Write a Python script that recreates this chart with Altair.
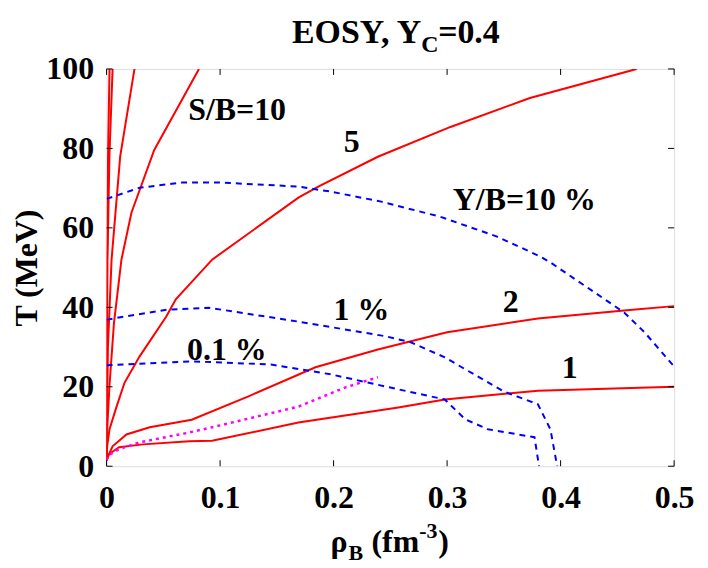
import altair as alt
import pandas as pd

# ---------------- data ----------------
# isentropes S/B (red, solid)
sb1_rho = [0, 0.002, 0.011, 0.032, 0.073, 0.093, 0.169, 0.257, 0.298, 0.38, 0.5]
sb1_T = [1.5, 3.0, 4.8, 5.5, 6.3, 6.4, 11.0, 14.8, 16.8, 19.0, 20.0]

sb2_rho = [0, 0.002, 0.0053, 0.0175, 0.038, 0.075, 0.125, 0.184, 0.239, 0.30, 0.38, 0.456, 0.5]
sb2_T = [1.5, 3.0, 5.0, 8.0, 9.8, 11.7, 17.6, 24.9, 29.4, 33.7, 37.2, 39.2, 40.3]

sb5_rho = [0, 0.0005, 0.0026, 0.0088, 0.0158, 0.029, 0.0526, 0.061, 0.093, 0.169, 0.1865, 0.239, 0.303, 0.373, 0.467]
sb5_T = [1.5, 5, 9.3, 15, 21, 27.6, 37.7, 42, 52, 67.6, 70.4, 77.9, 85.4, 92.7, 100]

sb10_rho = [0, 0.0003, 0.0025, 0.0065, 0.0131, 0.0219, 0.042, 0.0814]
sb10_T = [1.5, 8, 20, 36, 52, 63.8, 79.6, 100]

sb20_rho = [0, 0.0002, 0.0012, 0.0044, 0.012, 0.0246]
sb20_T = [1.5, 10, 30, 52, 78, 100]

sb50_rho = [0, 0.0002, 0.0008, 0.0025, 0.0053]
sb50_T = [1.5, 25, 52, 78, 100]

sb100_rho = [0, 0.0001, 0.0004, 0.0013, 0.0026]
sb100_T = [1.5, 25, 52, 78, 100]

# magenta dotted curve
mag_rho = [0, 0.002, 0.011, 0.029, 0.073, 0.096, 0.169, 0.21, 0.239]
mag_T = [1.5, 2.8, 4.3, 6.0, 8.5, 10.0, 15.0, 19.8, 22.4]

# Y/B contours (blue, dashed)
yb10_rho = [0, 0.029, 0.0665, 0.10, 0.169, 0.198, 0.242, 0.294, 0.344, 0.382, 0.391, 0.456, 0.474, 0.5]
yb10_T = [67.3, 70.1, 71.4, 71.4, 70.4, 69.1, 66.6, 62.8, 57.8, 52.8, 51.3, 38.7, 33.7, 25.1]

yb1_rho = [0, 0.0526, 0.09, 0.169, 0.246, 0.268, 0.298, 0.316, 0.35, 0.38, 0.391, 0.397]
yb1_T = [36.9, 39.4, 39.9, 36.4, 32.7, 31.2, 27.4, 24.4, 18.8, 15.6, 9.3, 0]

yb01_rho = [0, 0.075, 0.145, 0.198, 0.25, 0.298, 0.316, 0.336, 0.377, 0.381]
yb01_T = [25.4, 26.4, 25.6, 23.1, 19.8, 16.8, 11.8, 9.3, 7.3, 0]

# in-plot labels
lab_text = ["S/B=10", "5", "Y/B=10 %", "1 %", "0.1 %", "2", "1"]
lab_rho = [0.115, 0.216, 0.368, 0.2245, 0.106, 0.356, 0.408]
lab_T = [89.6, 81.5, 66.9, 39.3, 29.3, 41.4, 24.8]

x_ticks = [0, 0.1, 0.2, 0.3, 0.4, 0.5]
y_ticks = [0, 20, 40, 60, 80, 100]

# ---------------- build table ----------------
curves = [
    ("S/B=1", "red", sb1_rho, sb1_T),
    ("S/B=2", "red", sb2_rho, sb2_T),
    ("S/B=5", "red", sb5_rho, sb5_T),
    ("S/B=10", "red", sb10_rho, sb10_T),
    ("S/B=20", "red", sb20_rho, sb20_T),
    ("S/B=50", "red", sb50_rho, sb50_T),
    ("S/B=100", "red", sb100_rho, sb100_T),
    ("mag", "magenta", mag_rho, mag_T),
    ("Y/B=10%", "blue", yb10_rho, yb10_T),
    ("Y/B=1%", "blue", yb1_rho, yb1_T),
    ("Y/B=0.1%", "blue", yb01_rho, yb01_T),
]
rows = []
for name, kind, rr, tt in curves:
    for i, (r, t) in enumerate(zip(rr, tt)):
        rows.append({"curve": name, "kind": kind, "i": i, "rho": r, "T": t})
df = pd.DataFrame(rows)
labels = pd.DataFrame({"text": lab_text, "rho": lab_rho, "T": lab_T})

FONT = "Liberation Serif"
W, H = 570, 399
xs = alt.Scale(domain=[0, 0.5], nice=False, zero=False)
ys = alt.Scale(domain=[0, 100], nice=False, zero=False)

x_axis = alt.Axis(values=x_ticks, ticks=False, domain=False, grid=False, title=None,
                  labelFont=FONT, labelFontSize=32, labelFontWeight="bold", labelColor="black",
                  labelPadding=16, labelFlush=False, labelOverlap=False,
                  labelExpr="datum.value == 0 ? '0' : format(datum.value, '.1f')")
y_axis = alt.Axis(values=y_ticks, ticks=False, domain=False, grid=False,
                  title="T (MeV)", titleFont=FONT, titleFontSize=32, titleFontWeight="bold",
                  titleColor="black", titleAngle=270, titleX=-80, titleY=H / 2,
                  titleAlign="center", titleBaseline="middle",
                  labelFont=FONT, labelFontSize=32, labelFontWeight="bold", labelColor="black",
                  labelPadding=13, labelFlush=False, labelOverlap=False)


def X(field):
    return alt.X(field, scale=xs, axis=x_axis, title=None)


def Y(field):
    return alt.Y(field, scale=ys, axis=y_axis, title="T (MeV)")


base = alt.Chart(df)
red = base.transform_filter(alt.datum.kind == "red").mark_line(
    color="#ff0000", strokeWidth=2, clip=True).encode(
    x=X("rho:Q"), y=Y("T:Q"), detail="curve:N", order="i:Q")
blue = base.transform_filter(alt.datum.kind == "blue").mark_line(
    color="#0000ff", strokeWidth=2, strokeDash=[6, 5], clip=True).encode(
    x=X("rho:Q"), y=Y("T:Q"), detail="curve:N", order="i:Q")
mag = base.transform_filter(alt.datum.kind == "magenta").mark_line(
    color="#ff00ff", strokeWidth=2.5, strokeDash=[3, 4], clip=True).encode(
    x=X("rho:Q"), y=Y("T:Q"), detail="curve:N", order="i:Q")

txt = alt.Chart(labels).mark_text(font=FONT, fontSize=32, fontWeight="bold", color="black",
                                  align="center", baseline="middle").encode(
    x=X("rho:Q"), y=Y("T:Q"), text="text:N")

# inward ticks on all four sides
xt = pd.DataFrame({"v": x_ticks})
yt = pd.DataFrame({"v": y_ticks})
tk = dict(color="black", strokeWidth=1)
xb = alt.Chart(xt).mark_rule(**tk).encode(x=X("v:Q"), y=alt.value(H), y2=alt.value(H - 6))
xtp = alt.Chart(xt).mark_rule(**tk).encode(x=X("v:Q"), y=alt.value(0), y2=alt.value(6))
yl = alt.Chart(yt).mark_rule(**tk).encode(y=Y("v:Q"), x=alt.value(0), x2=alt.value(6))
yr = alt.Chart(yt).mark_rule(**tk).encode(y=Y("v:Q"), x=alt.value(W), x2=alt.value(W - 6))

one = pd.DataFrame({"a": [0]})


def piece(s, x, y, size, align="left"):
    return alt.Chart(one).mark_text(font=FONT, fontSize=size, fontWeight="bold", color="black",
                                    align=align, baseline="alphabetic").encode(
        text=alt.value(s), x=alt.value(x), y=alt.value(y))


# title  "EOSY, Y_C=0.4"
t1 = piece("EOSY, Y", 316, -26, 34, "right")
t2 = piece("C", 316, -17, 24)
t3 = piece("=0.4", 333, -26, 34)
# x axis title  "rho_B (fm^-3)"
a1 = piece("ρ", 225, H + 86, 32)
a2 = piece("B", 243, H + 94, 22)
a3 = piece("(fm", 266, H + 86, 32)
a4 = piece("-3", 314, H + 72, 22)
a5 = piece(")", 333, H + 86, 32)

chart = alt.layer(red, blue, mag, txt, xb, xtp, yl, yr, t1, t2, t3, a1, a2, a3, a4, a5).properties(
    width=W, height=H,
    autosize=alt.AutoSizeParams(type="none"),
    padding={"left": 99, "top": 60, "right": 26, "bottom": 100},
).configure_view(stroke="black", strokeWidth=1.5).configure(background="white")

chart.save("out.html", embed_options={"renderer": "svg", "actions": False})
